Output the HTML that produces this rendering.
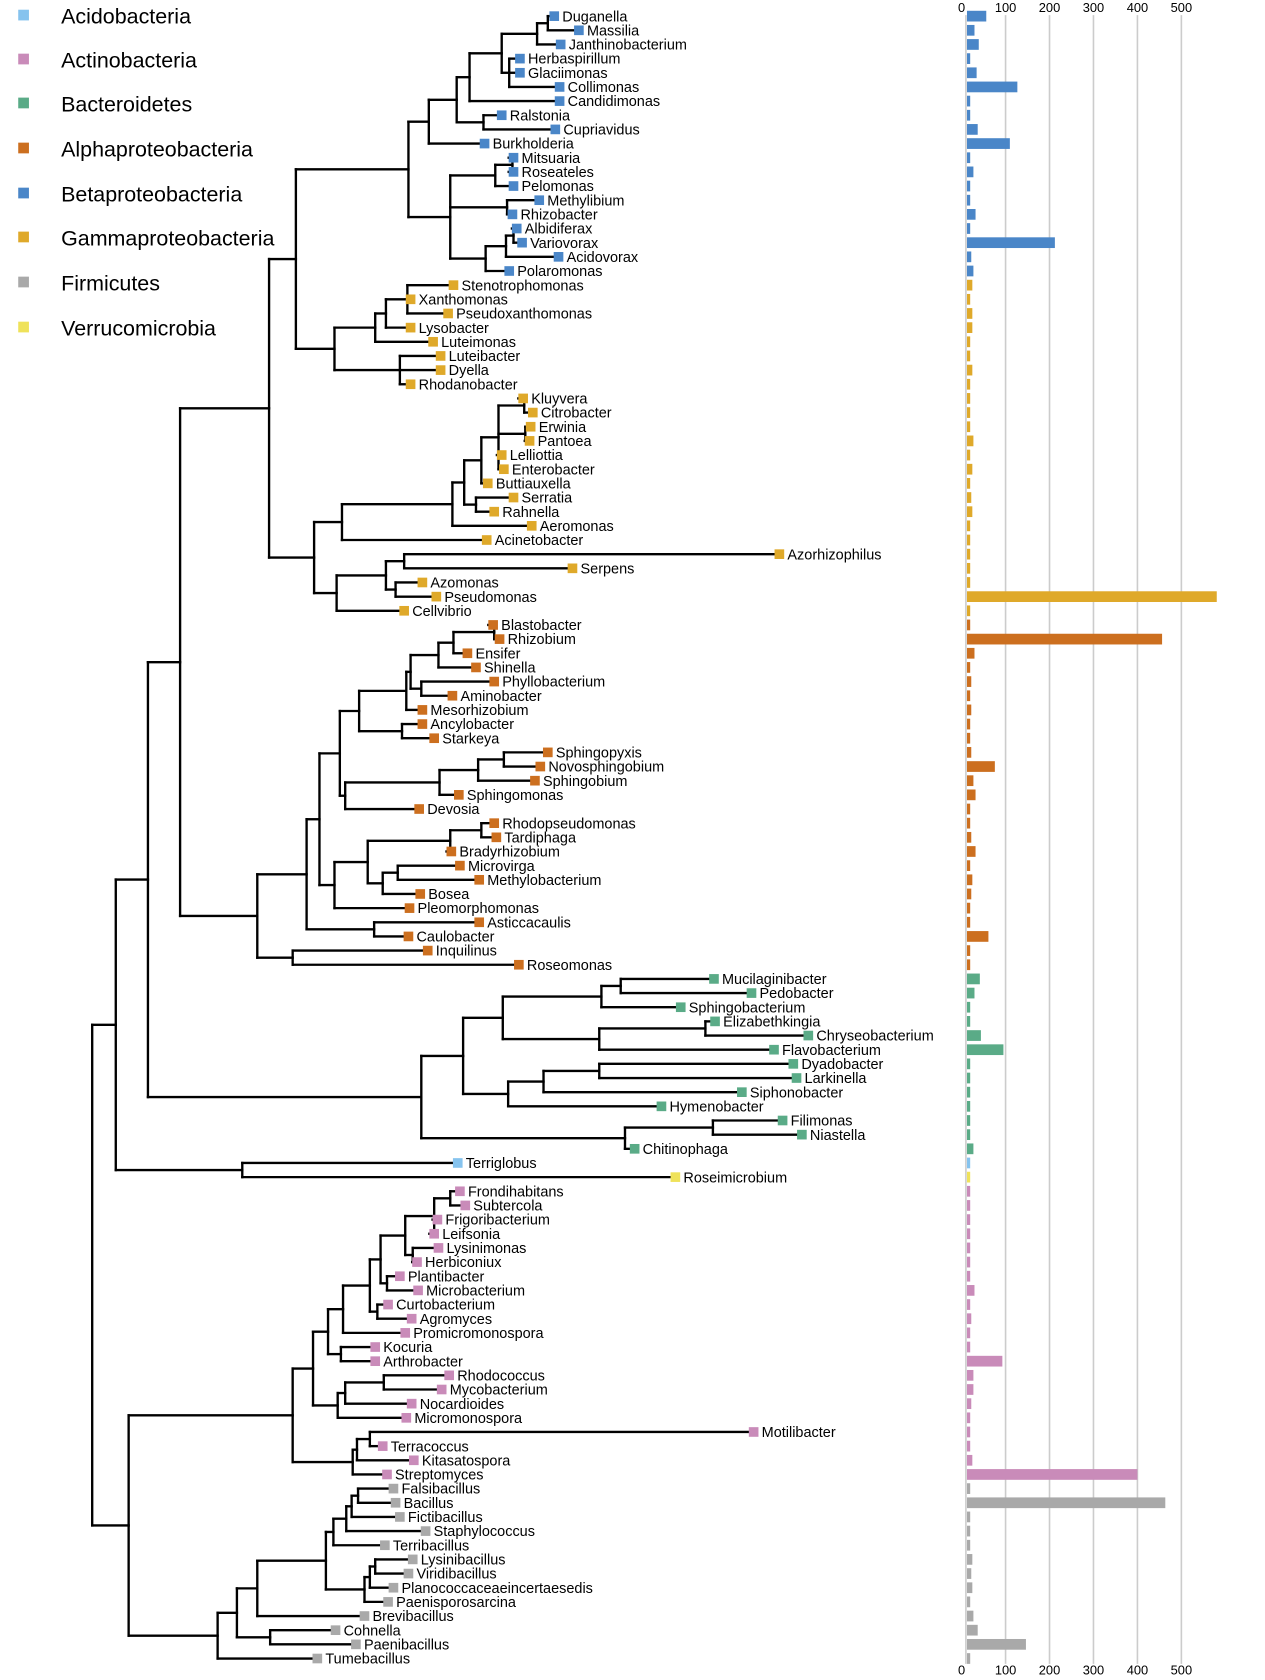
<!DOCTYPE html>
<html><head><meta charset="utf-8"><style>
html,body{margin:0;padding:0;background:#fff;}
svg{display:block;}
text{font-family:"Liberation Sans",Arial,sans-serif;}
</style></head><body>
<svg id="s" xmlns="http://www.w3.org/2000/svg" width="1265" height="1680" viewBox="0 0 1180 1567">
<g font-size="20" fill="#000">
<rect x="17" y="9" width="10" height="10" fill="#86c3ee"/><text x="57" y="22">Acidobacteria</text>
<rect x="17" y="50" width="10" height="10" fill="#c98bb9"/><text x="57" y="63">Actinobacteria</text>
<rect x="17" y="91" width="10" height="10" fill="#5aab87"/><text x="57" y="104">Bacteroidetes</text>
<rect x="17" y="133" width="10" height="10" fill="#cc6f1f"/><text x="57" y="146">Alphaproteobacteria</text>
<rect x="17" y="175" width="10" height="10" fill="#4a86c8"/><text x="57" y="188">Betaproteobacteria</text>
<rect x="17" y="216" width="10" height="10" fill="#dfa92a"/><text x="57" y="229">Gammaproteobacteria</text>
<rect x="17" y="258" width="10" height="10" fill="#a9a9a9"/><text x="57" y="271">Firmicutes</text>
<rect x="17" y="300" width="10" height="10" fill="#efe25a"/><text x="57" y="313">Verrucomicrobia</text>
</g>
<g id="axis" font-size="12" text-anchor="middle">
<line x1="901" y1="14" x2="901" y2="1552" stroke="#ccc" stroke-width="1.5"/>
<line x1="938" y1="14" x2="938" y2="1552" stroke="#ccc" stroke-width="1.5"/>
<line x1="979" y1="14" x2="979" y2="1552" stroke="#ccc" stroke-width="1.5"/>
<line x1="1020" y1="14" x2="1020" y2="1552" stroke="#ccc" stroke-width="1.5"/>
<line x1="1061" y1="14" x2="1061" y2="1552" stroke="#ccc" stroke-width="1.5"/>
<line x1="1102" y1="14" x2="1102" y2="1552" stroke="#ccc" stroke-width="1.5"/>
<text x="897" y="11">0</text><text x="938" y="11">100</text><text x="979" y="11">200</text><text x="1020" y="11">300</text><text x="1061" y="11">400</text><text x="1102" y="11">500</text>
<text x="897" y="1562">0</text><text x="938" y="1562">100</text><text x="979" y="1562">200</text><text x="1020" y="1562">300</text><text x="1061" y="1562">400</text><text x="1102" y="1562">500</text>
</g>
<g id="tree"></g>
</svg>
<script>
var C={acido:"#86c3ee",actino:"#c98bb9",bact:"#5aab87",alpha:"#cc6f1f",beta:"#4a86c8",gamma:"#dfa92a",firm:"#a9a9a9",verr:"#efe25a"};
function N(x){return {x:x,c:Array.prototype.slice.call(arguments,1)};}
function L(n,t,w,col){return {n:n,t:t,w:w,col:col};}
function col(node,c){if(node.c){node.c.forEach(function(k){col(k,c);});}else if(!node.col){node.col=c;}return node;}
var B=col(N(381,
 N(400,
  N(426,
   N(438,
    N(468,
     N(501,N(511,L('Duganella',517,18),L('Massilia',540,7)),L('Janthinobacterium',523,11)),
     N(475,L('Herbaspirillum',485,3),L('Glaciimonas',485,9),L('Collimonas',522,47))),
    L('Candidimonas',522,3)),
   N(451,L('Ralstonia',468,3),L('Cupriavidus',518,10))),
  L('Burkholderia',452,40)),
 N(420,
  N(462,N(478,L('Mitsuaria',479,3),L('Roseateles',479,6)),L('Pelomonas',479,3)),
  N(473,L('Methylibium',503,2),L('Rhizobacter',478,8)),
  N(453,N(472,N(479,L('Albidiferax',482,3),L('Variovorax',487,82)),L('Acidovorax',521,4)),L('Polaromonas',475,6)))),'beta');
var G1=col(N(312,
 N(350,N(360,N(380,L('Stenotrophomonas',423,5),L('Xanthomonas',383,2),L('Pseudoxanthomonas',418,5)),L('Lysobacter',383,5)),L('Luteimonas',404,2)),
 N(373,L('Luteibacter',411,2),L('Dyella',411,5),L('Rhodanobacter',383,2))),'gamma');
var G2=col(N(293,
 N(319,
  N(422,
   N(433,
    N(449,
     N(465,N(489,L('Kluyvera',488,2),L('Citrobacter',497,2)),N(490,L('Erwinia',495,2),L('Pantoea',494,6)),L('Lelliottia',468,2),L('Enterobacter',470,5)),
     L('Buttiauxella',455,2)),
    N(444,L('Serratia',479,4),L('Rahnella',461,5))),
   L('Aeromonas',496,2)),
  L('Acinetobacter',454,2)),
 N(314,
  N(360,N(377,L('Azorhizophilus',727,2),L('Serpens',534,2)),N(369,L('Azomonas',394,2),L('Pseudomonas',407,233))),
  L('Cellvibrio',377,3))),'gamma');
var Al=col(N(240,
 N(286,
  N(298,
   N(317,
    N(335,
     N(379,
      N(383,
       N(409,N(423,N(461,L('Blastobacter',460,2),L('Rhizobium',466,182)),L('Ensifer',436,7)),L('Shinella',444,2)),
       N(393,L('Phyllobacterium',461,4),L('Aminobacter',422,2))),
      L('Mesorhizobium',394,4)),
     N(375,L('Ancylobacter',394,3),L('Starkeya',405,2))),
    N(322,
     N(410,N(446,N(470,L('Sphingopyxis',511,4),L('Novosphingobium',504,26)),L('Sphingobium',499,6)),L('Sphingomonas',428,8)),
     L('Devosia',391,2))),
   N(312,
    N(343,
     N(420,N(449,L('Rhodopseudomonas',461,2),L('Tardiphaga',463,4)),L('Bradyrhizobium',421,8)),
     N(357,N(371,L('Microvirga',429,2),L('Methylobacterium',447,5)),L('Bosea',392,4))),
    L('Pleomorphomonas',382,2))),
  N(349,L('Asticcacaulis',447,2),L('Caulobacter',381,20))),
 N(273,L('Inquilinus',399,3),L('Roseomonas',484,2))),'alpha');
var Ba=col(N(393,
 N(432,
  N(469,
   N(561,N(579,L('Mucilaginibacter',666,12),L('Pedobacter',701,7)),L('Sphingobacterium',635,2)),
   N(559,N(658,L('Elizabethkingia',667,2),L('Chryseobacterium',754,13)),L('Flavobacterium',722,34))),
  N(474,N(507,N(559,L('Dyadobacter',740,3),L('Larkinella',743,2)),L('Siphonobacter',692,2)),L('Hymenobacter',617,2))),
 N(583,N(665,L('Filimonas',730,2),L('Niastella',748,2)),L('Chitinophaga',592,6))),'bact');
var TR=N(226,L('Terriglobus',427,2,'acido'),L('Roseimicrobium',630,2,'verr'));
var Ac=col(N(273,
 N(292,
  N(306,
   N(320,
    N(345,
     N(355,
      N(378,N(405,N(420,L('Frondihabitans',429,2),L('Subtercola',434,2)),L('Frigoribacterium',408,3),L('Leifsonia',405,3)),N(385,L('Lysinimonas',409,3),L('Herbiconiux',389,2))),
      N(361,L('Plantibacter',373,2),L('Microbacterium',390,7))),
     N(352,L('Curtobacterium',362,2),L('Agromyces',384,4))),
    L('Promicromonospora',378,3)),
   N(318,L('Kocuria',350,2),L('Arthrobacter',350,33))),
  N(315,N(322,N(358,L('Rhodococcus',419,6),L('Mycobacterium',412,6)),L('Nocardioides',384,4)),L('Micromonospora',379,2))),
 N(329,N(333,N(345,L('Motilibacter',703,2),L('Terracoccus',357,2)),L('Kitasatospora',386,5)),L('Streptomyces',361,159))),'actino');
var Fi=col(N(203,
 N(221,
  N(240,
   N(304,
    N(311,N(323,N(328,N(334,L('Falsibacillus',367,2),L('Bacillus',369,185)),L('Fictibacillus',373,2)),L('Staphylococcus',397,2)),L('Terribacillus',359,2)),
    N(340,N(345,N(350,L('Lysinibacillus',385,5),L('Viridibacillus',381,4)),L('Planococcaceaeincertaesedis',367,5)),L('Paenisporosarcina',362,3))),
   L('Brevibacillus',340,6)),
  N(252,L('Cohnella',313,10),L('Paenibacillus',332,55))),
 L('Tumebacillus',296,2)),'firm');
var R=N(86,N(108,N(138,N(168,N(251,N(276,B,G1),G2),Al),Ba),TR),N(120,Ac,Fi));
var idx=0,out=[];
function lay(n){
 if(!n.c){n.y=15+idx*13.207;idx++;return;}
 n.c.forEach(lay);
 n.y=(n.c[0].y+n.c[n.c.length-1].y)/2;
}
lay(R);
function draw(n){
 if(!n.c){
  var c=C[n.col];
  out.push('<rect x="'+(n.t-4.5)+'" y="'+(n.y-4.5)+'" width="9" height="9" fill="'+c+'"/>');
  out.push('<text x="'+(n.t+7.5)+'" y="'+(n.y+4.8)+'" font-size="13.5">'+n.n+'</text>');
  out.push('<rect x="902" y="'+(n.y-5)+'" width="'+Math.max(n.w,3)+'" height="10" fill="'+c+'"/>');
  return;
 }
 out.push('<line x1="'+n.x+'" y1="'+n.c[0].y+'" x2="'+n.x+'" y2="'+n.c[n.c.length-1].y+'"/>');
 n.c.forEach(function(k){
  var ex=k.c?k.x:k.t-4.5;
  out.push('<line x1="'+n.x+'" y1="'+k.y+'" x2="'+ex+'" y2="'+k.y+'"/>');
 });
 n.c.forEach(draw);
}
draw(R);
var lines=out.filter(function(s){return s.indexOf('<line')==0;}).join('');
var rest=out.filter(function(s){return s.indexOf('<line')!=0;}).join('');
document.getElementById('tree').innerHTML='<g stroke="#000" stroke-width="2.2" stroke-linecap="square">'+lines+'</g>'+rest;
</script>
</body></html>
